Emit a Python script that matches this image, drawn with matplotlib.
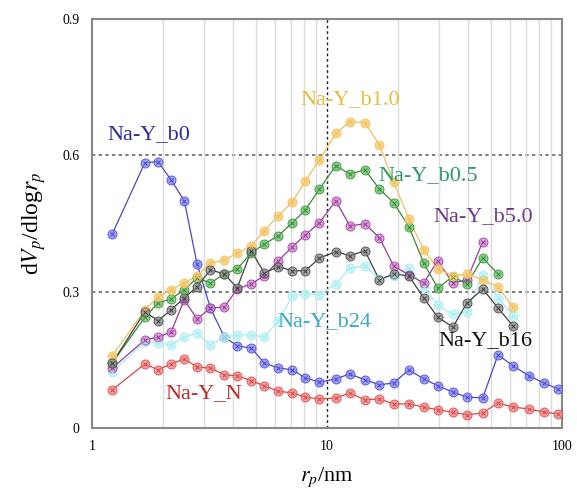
import numpy as np
import matplotlib.pyplot as plt
from matplotlib.ticker import LogLocator, NullFormatter, FixedLocator

plt.rcParams['font.family'] = ['Liberation Serif', 'DejaVu Serif']
plt.rcParams['mathtext.fontset'] = 'stix'

# pore radius grid (nm)
r_p = [1.22, 1.68, 1.91, 2.17, 2.47, 2.80, 3.19, 3.66, 4.15, 4.76, 5.41, 6.21,
       7.13, 8.10, 9.29, 10.9, 12.5, 14.5, 16.7, 19.2, 22.3, 25.8, 29.6, 34.3,
       39.4, 46.0, 53.4, 61.8, 72.3, 83.8, 96.1]

y_N = [0.084, 0.141, 0.128, 0.141, 0.152, 0.134, 0.132, 0.117, 0.115, 0.104, 0.093,
       0.081, 0.077, 0.068, 0.064, 0.066, 0.077, 0.062, 0.064, 0.053, 0.053, 0.046,
       0.040, 0.035, 0.029, 0.033, 0.055, 0.046, 0.042, 0.035, 0.031]
y_b0 = [0.427, 0.584, 0.586, 0.546, 0.500, 0.361, 0.264, 0.200, 0.181, 0.176, 0.143,
        0.132, 0.128, 0.110, 0.101, 0.108, 0.119, 0.106, 0.095, 0.099, 0.128, 0.108,
        0.093, 0.079, 0.068, 0.066, 0.161, 0.137, 0.115, 0.099, 0.086]
y_b24 = [0.123, 0.19, 0.187, 0.183, 0.200, 0.209, 0.183, 0.200, 0.205, 0.205, 0.200,
         0.236, 0.291, 0.295, 0.293, 0.317, 0.352, 0.357, 0.328, 0.335, 0.352, 0.31,
         0.27, 0.25, 0.255, 0.336, 0.287, 0.247]
y_b50 = [0.132, 0.194, 0.200, 0.211, 0.282, 0.240, 0.264, 0.266, 0.306, 0.317, 0.335,
         0.368, 0.399, 0.425, 0.452, 0.500, 0.445, 0.449, 0.419, 0.357, 0.337, 0.319,
         0.368, 0.319, 0.326, 0.410]
y_b05 = [0.143, 0.244, 0.275, 0.284, 0.304, 0.330, 0.319, 0.339, 0.350, 0.385, 0.405,
         0.423, 0.452, 0.480, 0.526, 0.577, 0.559, 0.568, 0.526, 0.496, 0.443, 0.363,
         0.308, 0.333, 0.317, 0.374, 0.339]
y_b10 = [0.159, 0.26, 0.289, 0.304, 0.319, 0.335, 0.363, 0.370, 0.385, 0.401, 0.434,
         0.467, 0.498, 0.544, 0.590, 0.648, 0.674, 0.672, 0.623, 0.542, 0.460, 0.392,
         0.350, 0.335, 0.339, 0.326, 0.311, 0.266]
y_b16 = [0.143, 0.256, 0.236, 0.260, 0.286, 0.311, 0.348, 0.339, 0.308, 0.390, 0.341,
         0.355, 0.346, 0.346, 0.374, 0.388, 0.379, 0.390, 0.326, 0.339, 0.335, 0.286,
         0.244, 0.222, 0.275, 0.306, 0.264, 0.225]

# (values, line colour, marker face, label text, label colour, label pos)
series = [
    (y_N,   '#d84848', '#f08a8a', 'Na-Y_N',    '#c02828', (3.0, 0.075)),
    (y_b0,  '#4848d0', '#8a8af0', 'Na-Y_b0',   '#2a2aa8', (1.75, 0.645)),
    (y_b24, '#a8ecf0', '#c0f4f6', 'Na-Y_b24',  '#3aa8c8', (9.7, 0.235)),
    (y_b50, '#9a3a9a', '#d088d0', 'Na-Y_b5.0', '#6a3a8a', (46.0, 0.465)),
    (y_b05, '#3a8a3a', '#6cc46c', 'Na-Y_b0.5', '#2a9a6a', (27.0, 0.555)),
    (y_b10, '#f0c060', '#f8cc70', 'Na-Y_b1.0', '#e8bc40', (12.5, 0.722)),
    (y_b16, '#404040', '#909090', 'Na-Y_b16',  '#111111', (47.0, 0.193)),
]

fig = plt.figure(figsize=(5.77, 4.99), dpi=100)
ax = fig.add_axes([0.1594, 0.1423, 0.8146, 0.8197])

for y, lc, mc, name, tc, pos in series:
    x = r_p[:len(y)]
    ax.plot(x, y, '-', color=lc, lw=0.9, zorder=3)
    ax.plot(x, y, 'o', ms=6.5, mfc=mc, mec=lc, mew=0.7, alpha=0.8, zorder=4)
    ax.plot(x, y, 'x', ms=3.2, color=lc, mew=0.7, zorder=5)
    ax.text(pos[0], pos[1], name, color=tc, fontsize=16, ha='center', va='center', zorder=6)

ax.set_xscale('log')
ax.set_xlim(1, 100)
ax.set_ylim(0, 0.9)
ax.xaxis.set_major_locator(FixedLocator([1, 10, 100]))
ax.xaxis.set_major_formatter(plt.FuncFormatter(lambda v, p: '%d' % v))
ax.xaxis.set_minor_locator(LogLocator(base=10, subs=np.arange(2, 10)))
ax.xaxis.set_minor_formatter(NullFormatter())
ax.set_yticks([0, 0.3, 0.6, 0.9])
ax.set_yticklabels(['0', '0.3', '0.6', '0.9'])
ax.tick_params(axis='both', which='both', length=0, labelsize=10)
ax.tick_params(axis='x', pad=9)
ax.tick_params(axis='y', pad=9)

ax.grid(True, which='minor', axis='x', color='#dcdcdc', lw=1.0, zorder=0)
ax.axvline(10, color='#222222', lw=1.0, ls=(0, (2, 2)), zorder=1)
for yy in [0.3, 0.6]:
    ax.axhline(yy, color='#666666', lw=1.2, ls=(0, (2, 2)), zorder=1)

for s in ax.spines.values():
    s.set_color('#888888')
    s.set_linewidth(1.5)

ax.set_xlabel(r'$r_p$/nm', fontsize=16, labelpad=9)
ax.set_ylabel(r'd$V_p$/dlog$r_p$', fontsize=17, labelpad=10)

fig.savefig('out.png', dpi=100)
